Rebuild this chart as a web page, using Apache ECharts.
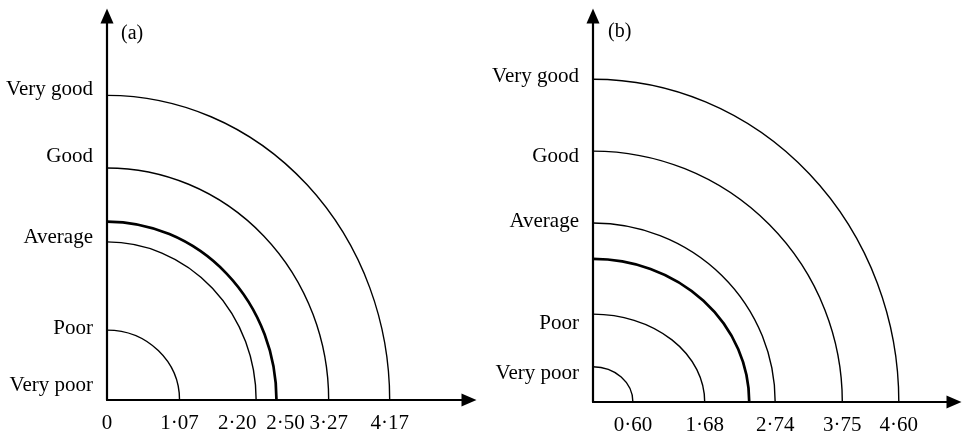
<!DOCTYPE html>
<html>
<head>
<meta charset="utf-8">
<script src="https://cdn.jsdelivr.net/npm/echarts@6/dist/echarts.min.js"></script>
<style>
  html, body { margin: 0; padding: 0; background: #fff; }
  #chart { width: 962px; height: 436px; }
</style>
</head>
<body>
<div id="chart"></div>
<script>
// Rating scale shown on both vertical axes
const ratingLevels = ['Very poor', 'Poor', 'Average', 'Good', 'Very good'];

// Panel (a): where each rating sits on the vertical axis
const aRatingPos = [0.21, 1.06, 2.39, 3.59, 4.57];
// Panel (a): arc radii along the horizontal axis and their heights
const aRadii = [1.07, 2.20, 3.27, 4.17];
const aHeights = [1.03, 2.33, 3.42, 4.49];
// Panel (a): boundary arc
const aBoundaryRadius = [2.50];
const aBoundaryHeight = [2.63];
// Panel (a): horizontal tick values and their labels
const aTicks = [0, 1.07, 2.20, 2.50, 3.27, 4.17];
const aTickLabels = ['0', '1·07', '2·20', '2·50', '3·27', '4·17'];

// Panel (b)
const bRatingPos = [0.43, 1.18, 2.71, 3.69, 4.89];
const bRadii = [0.60, 1.68, 2.74, 3.75, 4.60];
const bHeights = [0.53, 1.32, 2.69, 3.77, 4.85];
const bBoundaryRadius = [2.35];
const bBoundaryHeight = [2.15];
const bTicks = [0.60, 1.68, 2.74, 3.75, 4.60];
const bTickLabels = ['0·60', '1·68', '2·74', '3·75', '4·60'];

const FONT = '"Liberation Serif", "DejaVu Serif", serif';

function pairs(xs, ys) {
  return xs.map((x, i) => [x, ys[i]]);
}

function labelFor(ticks, labels) {
  return function (value) {
    for (let i = 0; i < ticks.length; i++) {
      if (Math.abs(ticks[i] - value) < 1e-6) return labels[i];
    }
    return '';
  };
}

// Quarter ellipse from the positive x axis up to the positive y axis
function renderArc(lineWidth) {
  return function (params, api) {
    const o = api.coord([0, 0]);
    const px = api.coord([api.value(0), 0]);
    const py = api.coord([0, api.value(1)]);
    const rx = px[0] - o[0];
    const ry = o[1] - py[1];
    return {
      type: 'path',
      shape: {
        pathData: 'M ' + (o[0] + rx) + ' ' + o[1] +
          ' A ' + rx + ' ' + ry + ' 0 0 0 ' + o[0] + ' ' + (o[1] - ry)
      },
      style: { fill: 'none', stroke: '#000', lineWidth: lineWidth }
    };
  };
}

const axisLineStyle = {
  show: true,
  onZero: false,
  symbol: ['none', 'triangle'],
  symbolSize: [13, 15],
  lineStyle: { color: '#000', width: 2.2 }
};

const labelText = { fontFamily: FONT, fontSize: 21, color: '#000' };

function xAxisFor(gridIndex, max, ticks, labels, rich) {
  const fmt = labelFor(ticks, labels);
  return {
    type: 'value',
    gridIndex: gridIndex,
    min: 0,
    max: max,
    axisLine: axisLineStyle,
    axisTick: { show: false },
    splitLine: { show: false },
    axisLabel: Object.assign({
      customValues: ticks,
      margin: 23,
      verticalAlign: 'middle',
      formatter: function (v) {
        const t = fmt(v);
        if (rich && rich.tags[t]) return '{' + rich.tags[t] + '|' + t + '}';
        return t;
      },
      rich: rich ? rich.styles : {}
    }, labelText)
  };
}

function yAxisFor(gridIndex, max, positions) {
  const fmt = labelFor(positions, ratingLevels);
  return {
    type: 'value',
    gridIndex: gridIndex,
    min: 0,
    max: max,
    axisLine: axisLineStyle,
    axisTick: { show: false },
    splitLine: { show: false },
    axisLabel: Object.assign({
      customValues: positions,
      margin: 14,
      formatter: fmt
    }, labelText)
  };
}

// Tick labels in panel (a) that sit close together are nudged apart
const aRich = {
  tags: { '2·20': 'shiftL', '2·50': 'shiftR' },
  styles: {
    shiftL: Object.assign({ padding: [0, 38, 0, 0] }, labelText),
    shiftR: Object.assign({ padding: [0, 0, 0, 18] }, labelText)
  }
};

const titleText = { fontFamily: FONT, fontSize: 20, fontWeight: 'normal', color: '#000' };

const option = {
  animation: false,
  backgroundColor: '#fff',
  title: [
    { text: '(a)', left: 121, top: 24, padding: 0, textStyle: titleText },
    { text: '(b)', left: 608, top: 22, padding: 0, textStyle: titleText }
  ],
  grid: [
    { left: 107, top: 16, width: 362, height: 384 },
    { left: 593, top: 16, width: 361, height: 386 }
  ],
  xAxis: [
    xAxisFor(0, 5.34, aTicks, aTickLabels, aRich),
    xAxisFor(1, 5.43, bTicks, bTickLabels, null)
  ],
  yAxis: [
    yAxisFor(0, 5.66, aRatingPos),
    yAxisFor(1, 5.80, bRatingPos)
  ],
  series: [
    { type: 'custom', name: 'a-levels', xAxisIndex: 0, yAxisIndex: 0,
      renderItem: renderArc(1.4), data: pairs(aRadii, aHeights), encode: { x: 0, y: 1 } },
    { type: 'custom', name: 'a-boundary', xAxisIndex: 0, yAxisIndex: 0,
      renderItem: renderArc(2.7), data: pairs(aBoundaryRadius, aBoundaryHeight), encode: { x: 0, y: 1 } },
    { type: 'custom', name: 'b-levels', xAxisIndex: 1, yAxisIndex: 1,
      renderItem: renderArc(1.4), data: pairs(bRadii, bHeights), encode: { x: 0, y: 1 } },
    { type: 'custom', name: 'b-boundary', xAxisIndex: 1, yAxisIndex: 1,
      renderItem: renderArc(2.7), data: pairs(bBoundaryRadius, bBoundaryHeight), encode: { x: 0, y: 1 } }
  ]
};

const chart = echarts.init(document.getElementById('chart'), null, { renderer: 'canvas' });
chart.setOption(option);
</script>
</body>
</html>
